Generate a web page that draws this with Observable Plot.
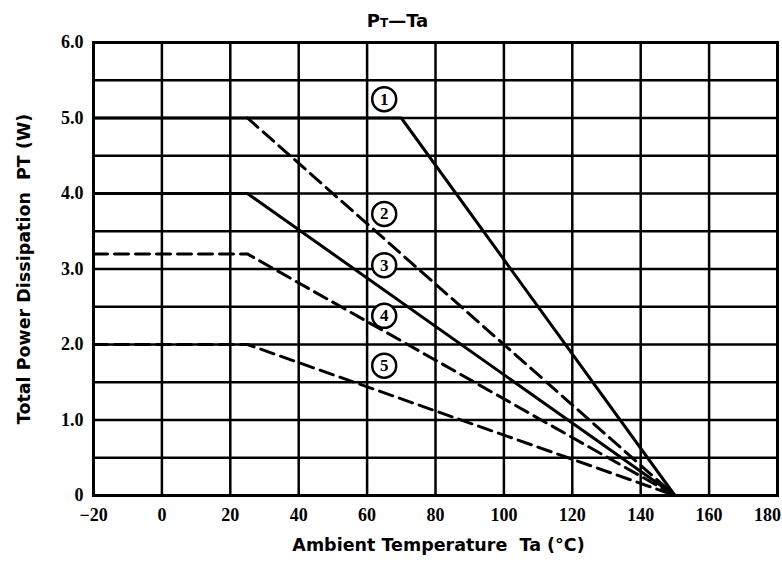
<!DOCTYPE html>
<html><head><meta charset="utf-8">
<script src="https://cdn.jsdelivr.net/npm/d3@7"></script>
<script src="https://cdn.jsdelivr.net/npm/@observablehq/plot@0.6"></script>
<style>
body{margin:0;background:#fff}
.chart text{fill:#000}
</style>
</head><body><div id="chart"></div>
<script>
// ---- data ----
const xTicks = [-20, 0, 20, 40, 60, 80, 100, 120, 140, 160];
const xTickLast = [180];
const yTicks = [0, 1, 2, 3, 4, 5, 6];
const xGrid = [-20, 0, 20, 40, 60, 80, 100, 120, 140, 160, 180];
const yGrid = [0, 0.5, 1, 1.5, 2, 2.5, 3, 3.5, 4, 4.5, 5, 5.5, 6];

const curve1Ta = [-20, 70, 150], curve1Pt = [5, 5, 0];     // solid
const curve2Ta = [25, 150],      curve2Pt = [5, 0];        // dashed
const curve3Ta = [-20, 25, 150], curve3Pt = [4, 4, 0];     // solid
const curve4Ta = [-20, 25, 150], curve4Pt = [3.2, 3.2, 0]; // dashed
const curve5Ta = [-20, 25, 150], curve5Pt = [2, 2, 0];     // dashed

const labelNames = ["1", "2", "3", "4", "5"];
const labelTa = [65, 65, 65, 65, 65];
const labelPt = [5.25, 3.73, 3.05, 2.38, 1.72];

const titleText = "PT—Ta";
const xLabel = "Ambient Temperature  Ta (°C)";
const yLabel = "Total Power Dissipation  PT (W)";

// ---- build ----
const toRows = (ts, ps) => ts.map((t, i) => ({t, p: ps[i]}));
const c1 = toRows(curve1Ta, curve1Pt);
const c2 = toRows(curve2Ta, curve2Pt);
const c3 = toRows(curve3Ta, curve3Pt);
const c4 = toRows(curve4Ta, curve4Pt);
const c5 = toRows(curve5Ta, curve5Pt);
const labels = labelNames.map((n, i) => ({n, t: labelTa[i], p: labelPt[i]}));

const serif = "'Liberation Serif', 'DejaVu Serif', serif";
const sans = "'DejaVu Sans', 'Liberation Sans', sans-serif";
const dash = "14,7";
const xFmt = d => d < 0 ? "−" + Math.abs(d) : String(d);

const plot = Plot.plot({
  width: 782, height: 563,
  marginLeft: 93, marginRight: 5, marginTop: 42, marginBottom: 68,
  className: "chart",
  style: {background: "#fff", color: "#000"},
  x: {domain: [-20, 180]},
  y: {domain: [0, 6]},
  marks: [
    Plot.ruleX(xGrid, {stroke: "#000", strokeWidth: 2.5}),
    Plot.ruleY(yGrid, {stroke: "#000", strokeWidth: 2.5}),
    Plot.frame({stroke: "#000", strokeWidth: 3}),
    Plot.axisX({ticks: xTicks, tickSize: 0, tickPadding: 13, label: null,
      fontFamily: serif, fontSize: 18, fontWeight: "bold", tickFormat: xFmt}),
    Plot.axisX({ticks: xTickLast, tickSize: 0, tickPadding: 13, label: null, dx: -10,
      fontFamily: serif, fontSize: 18, fontWeight: "bold", tickFormat: xFmt}),
    Plot.axisY({ticks: yTicks, tickSize: 0, tickPadding: 10, label: null,
      fontFamily: serif, fontSize: 18, fontWeight: "bold",
      tickFormat: d => d === 0 ? "0" : d.toFixed(1)}),
    Plot.line(c1, {x: "t", y: "p", stroke: "#000", strokeWidth: 3}),
    Plot.line(c2, {x: "t", y: "p", stroke: "#000", strokeWidth: 3, strokeDasharray: dash}),
    Plot.line(c3, {x: "t", y: "p", stroke: "#000", strokeWidth: 3}),
    Plot.line(c4, {x: "t", y: "p", stroke: "#000", strokeWidth: 3, strokeDasharray: dash}),
    Plot.line(c5, {x: "t", y: "p", stroke: "#000", strokeWidth: 3, strokeDasharray: dash}),
    Plot.dot(labels, {x: "t", y: "p", r: 12, fill: "#fff", stroke: "#000", strokeWidth: 2.5}),
    Plot.text(labels, {x: "t", y: "p", text: "n", fontFamily: serif, fontSize: 17, fontWeight: "bold", fill: "#000"}),
    Plot.text([titleText], {frameAnchor: "top", dx: -38, dy: -28, fontFamily: sans, fontSize: 18, fontWeight: "bold", fill: "#000"}),
    Plot.text([xLabel], {frameAnchor: "bottom", dx: 3, dy: 55, fontFamily: sans, fontSize: 17.5, fontWeight: "bold", fill: "#000"}),
    Plot.text([yLabel], {frameAnchor: "left", textAnchor: "middle", dx: -69, rotate: -90, fontFamily: sans, fontSize: 17.5, fontWeight: "bold", fill: "#000"})
  ]
});

// subscript-style T in the title
d3.select(plot).selectAll("text").filter(function() { return this.textContent === titleText; })
  .each(function() {
    const el = d3.select(this);
    el.text(null);
    el.append("tspan").text("P");
    el.append("tspan").attr("font-size", 12).text("T");
    el.append("tspan").text("—Ta");
  });

document.getElementById("chart").appendChild(plot);
</script>
</body></html>
